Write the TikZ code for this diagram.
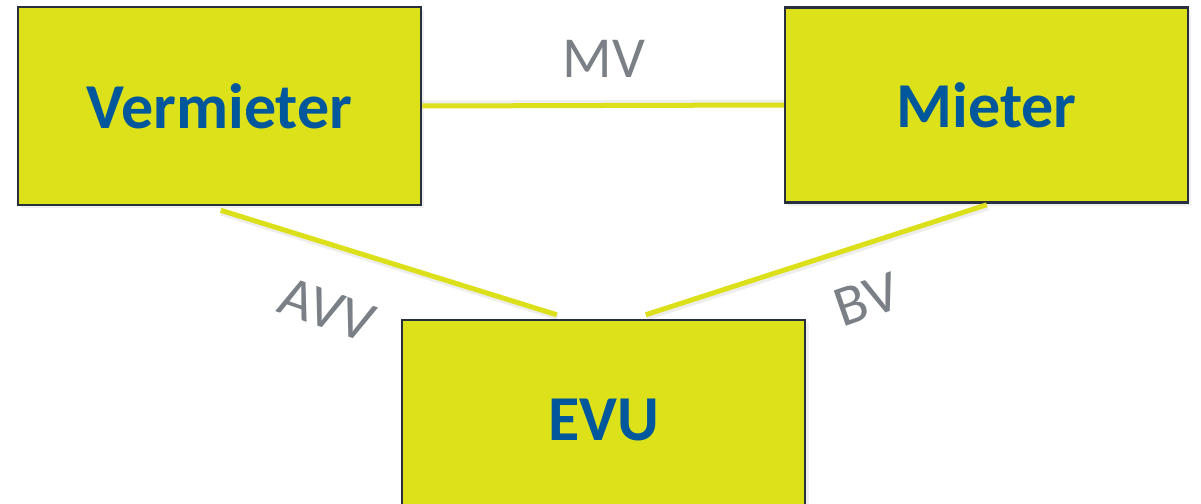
\documentclass[tikz,border=0pt]{standalone}
\usepackage{fontspec}
\setmainfont{Carlito}
\usetikzlibrary{calc}
\definecolor{boxfill}{HTML}{DCE11A}
\definecolor{boxline}{HTML}{28303F}
\definecolor{txtblue}{HTML}{00579B}
\definecolor{lblgray}{HTML}{7A8086}
\definecolor{conncol}{HTML}{DCE01A}
\tikzset{
  party/.style={draw=boxline, line width=2.5pt, fill=boxfill, inner sep=0pt,
    minimum width=403pt, text=txtblue,
    font=\fontsize{64}{70}\selectfont\bfseries},
  conn/.style={draw=conncol, line width=5pt},
  connshadow/.style={draw=black, opacity=0.07, line width=7pt},
  lbl/.style={text=lblgray, font=\fontsize{58}{64}\selectfont, inner sep=0pt}
}
\begin{document}
\begin{tikzpicture}[x=1pt,y=-1pt]
\useasboundingbox (0,0) rectangle (1201,503);
\fill[white] (0,0) rectangle (1201,503);
% faint shadows of boxes
\fill[black,opacity=0.06] (21,10) rectangle (424,208);
\fill[black,opacity=0.06] (788,10) rectangle (1191,206);
\fill[black,opacity=0.06] (406,323) rectangle (809,523);
\node[party, minimum height=198pt] (verm) at (219.5,106) {Vermieter};
\node[party, minimum height=195pt] (mieter) at (986.5,105) {Mieter};
\node[party, minimum height=200pt] (evu) at (603.5,420) {EVU};
% connector shadows
\draw[connshadow] ([yshift=2pt]verm.east) -- ([yshift=2pt]mieter.west);
\draw[connshadow] ($(verm.south west)+(205,6)$) -- ($(evu.north west)+(157,-2)$);
\draw[connshadow] ($(mieter.south west)+(204,3)$) -- ($(evu.north west)+(246,-2)$);
% connectors
\draw[conn] (verm.east) -- (mieter.west);
\draw[conn] ($(verm.south west)+(204,4)$) -- ($(evu.north west)+(156,-4)$);
\draw[conn] ($(mieter.south west)+(203,1)$) -- ($(evu.north west)+(245,-4)$);
% labels
\node[lbl] (mv) at (604,59) {MV};
\node[lbl, rotate=-19] (avv) at (327,310) {AVV};
\node[lbl, rotate=19] (bv) at (867,300) {BV};
\end{tikzpicture}
\end{document}
